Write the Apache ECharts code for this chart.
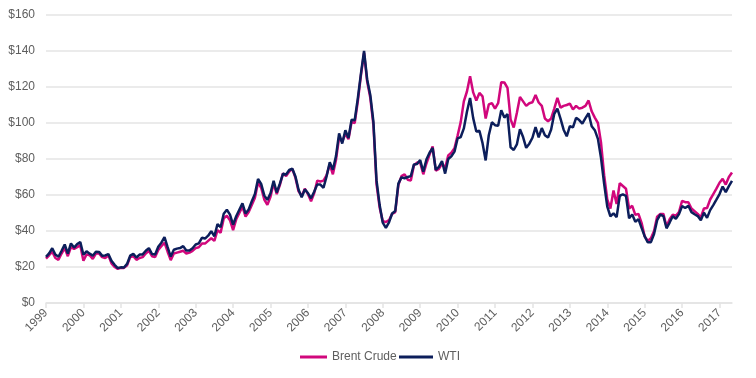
<!DOCTYPE html>
<html>
<head>
<meta charset="utf-8">
<script src="https://cdn.jsdelivr.net/npm/echarts@6/dist/echarts.min.js"></script>
<style>html,body{margin:0;padding:0;background:#fff}#c{width:756px;height:378px}</style>
</head>
<body>
<div id="c"></div>
<script>
// Year tick labels (one per 12 monthly points)
var yearLabels = ['1999','2000','2001','2002','2003','2004','2005','2006','2007','2008','2009','2010','2011','2012','2013','2014','2015','2016','2017','2018'];
var monthNames = ['01','02','03','04','05','06','07','08','09','10','11','12'];

// Monthly prices (USD/bbl)
var wti = [
25.6,
27.6,30.4,26.9,25.7,29.0,32.5,27.4,33.1,30.8,32.7,33.8,26.8,
28.7,27.4,26.3,28.5,28.4,26.3,26.4,27.2,23.4,21.2,19.4,19.8,
19.7,21.7,26.3,27.3,25.3,26.9,27.0,29.0,30.5,27.2,26.9,31.2,
33.5,36.6,31.0,25.8,29.6,30.2,30.5,31.6,29.2,29.1,30.4,32.5,
33.1,36.2,35.8,37.4,39.9,37.1,43.8,42.1,49.6,51.8,49.1,43.5,
48.2,51.8,55.4,49.7,52.0,56.5,60.6,68.9,66.2,59.8,57.3,61.0,
67.9,61.4,66.3,71.8,71.4,73.9,74.6,70.3,62.9,58.7,63.1,61.1,
58.2,61.8,65.9,65.8,64.0,70.5,78.2,74.0,81.6,94.2,88.6,96.0,
91.7,101.8,101.5,113.7,127.4,140.0,124.2,115.6,100.7,68.1,54.4,44.6,
41.7,44.8,49.7,51.1,66.3,69.8,69.3,70.0,70.5,77.0,77.2,79.4,
72.9,79.7,83.5,86.1,74.0,75.6,78.9,71.9,80.0,81.5,84.1,91.4,
92.2,97.0,106.2,113.9,102.7,95.3,95.7,88.8,79.2,93.2,100.4,98.8,
98.5,107.1,103.0,104.9,86.5,85.0,88.1,96.5,92.2,86.2,88.5,91.8,
97.7,92.0,97.2,93.2,91.9,96.4,105.1,108.0,102.4,96.3,92.6,98.2,
97.6,102.9,101.6,99.7,102.7,105.4,98.2,96.0,91.2,80.5,66.2,53.5,
48.2,49.8,47.7,59.6,60.3,59.5,47.1,49.2,45.1,46.6,41.7,37.0,
33.7,33.8,38.3,46.0,49.1,48.3,41.5,44.7,48.2,46.8,49.4,53.8,
52.8,54.0,50.5,49.3,48.3,46.0,50.2,47.3,51.6,54.4,57.4,60.5,
64.7,61.6,64.9,67.8
];
var brent = [
24.7,
26.5,28.5,25.0,24.0,27.5,30.5,26.0,31.0,30.0,31.0,32.0,23.5,
27.0,26.5,24.5,27.5,27.5,25.5,25.0,26.5,22.0,20.0,19.0,19.5,
19.5,21.0,25.5,26.0,24.0,25.0,25.5,27.5,29.0,26.0,25.5,29.5,
31.5,33.5,28.5,23.8,27.5,28.0,28.5,29.0,27.5,28.0,29.0,30.5,
31.0,33.0,33.0,34.5,36.0,34.5,40.5,39.0,47.0,48.5,46.0,40.5,
46.5,50.0,53.5,48.0,50.5,54.5,58.5,67.0,64.0,57.5,54.5,59.0,
66.5,60.5,65.5,72.0,70.5,73.0,74.5,69.5,62.0,59.5,63.5,60.5,
56.5,61.0,68.0,67.5,68.0,71.0,77.0,71.5,79.5,92.0,89.5,94.0,
91.0,100.5,100.0,112.0,126.5,139.0,123.0,114.0,99.0,66.0,53.0,45.5,
45.0,46.0,49.5,50.5,65.5,70.5,71.5,68.5,68.0,76.5,78.0,78.0,
71.5,77.5,82.5,87.0,73.5,74.5,77.5,75.0,82.0,83.5,86.0,93.0,
100.5,112.0,117.5,126.0,117.0,112.5,116.7,114.8,102.5,110.3,111.0,108.0,
111.0,122.7,122.5,119.5,102.0,97.5,105.5,114.5,112.0,109.5,111.0,111.5,
115.5,111.4,109.5,102.5,101.0,102.5,108.0,114.0,108.5,109.5,110.0,110.8,
107.5,109.5,108.0,108.5,109.5,112.5,106.5,103.0,100.0,89.0,71.0,57.5,
52.5,62.5,55.0,66.5,65.0,63.5,52.5,54.0,49.0,49.5,44.5,37.0,
34.5,36.0,40.0,48.0,49.5,49.5,42.5,46.5,49.0,48.5,50.5,56.8,
56.0,56.0,52.5,51.0,49.5,47.5,52.5,52.8,57.5,60.5,63.5,66.8,
69.0,65.8,70.0,72.5
];

var categories = [];
for (var i = 0; i < wti.length; i++) {
  categories.push(yearLabels[Math.floor(i / 12)] + '-' + monthNames[i % 12]);
}

var chart = echarts.init(document.getElementById('c'), null, {renderer: 'canvas'});
var textColor = '#5e5e5e';
var gridColor = '#e4e4e4';
var font = 'Liberation Sans, Arial, Helvetica, sans-serif';
var legendText = {color: textColor, fontSize: 12, fontFamily: font};
chart.setOption({
  animation: false,
  backgroundColor: '#fff',
  grid: {left: 46, right: 24, top: 15, bottom: 75, containLabel: false},
  legend: [
    {
      data: ['Brent Crude'],
      top: 351,
      left: 300,
      padding: 0,
      icon: 'rect',
      itemWidth: 27,
      itemHeight: 3,
      textStyle: legendText
    },
    {
      data: ['WTI'],
      top: 351,
      left: 399,
      padding: 0,
      icon: 'rect',
      itemWidth: 34,
      itemHeight: 3,
      textStyle: legendText
    }
  ],
  xAxis: {
    type: 'category',
    data: categories,
    boundaryGap: false,
    axisLine: {lineStyle: {color: gridColor, width: 1.5}},
    axisTick: {
      interval: function (idx) { return idx % 12 === 0; },
      length: 5,
      lineStyle: {color: gridColor, width: 1.5}
    },
    axisLabel: {
      interval: function (idx) { return idx % 12 === 0; },
      formatter: function (v) { return v.split('-')[0]; },
      rotate: 45,
      margin: 8,
      color: textColor,
      fontSize: 12,
      fontFamily: font
    },
    splitLine: {show: false}
  },
  yAxis: {
    type: 'value',
    min: 0,
    max: 160,
    interval: 20,
    axisLine: {show: false},
    axisTick: {show: false},
    axisLabel: {
      formatter: function (v) { return '$' + v; },
      margin: 11,
      color: textColor,
      fontSize: 12,
      fontFamily: font
    },
    splitLine: {lineStyle: {color: gridColor, width: 1.5}}
  },
  series: [
    {
      name: 'Brent Crude',
      type: 'line',
      data: brent,
      showSymbol: false,
      symbol: 'none',
      lineStyle: {color: '#d1077c', width: 2.5},
      itemStyle: {color: '#d1077c'},
      z: 2
    },
    {
      name: 'WTI',
      type: 'line',
      data: wti,
      showSymbol: false,
      symbol: 'none',
      lineStyle: {color: '#0c1e5b', width: 2.5},
      itemStyle: {color: '#0c1e5b'},
      z: 3
    }
  ]
});
</script>
</body>
</html>
